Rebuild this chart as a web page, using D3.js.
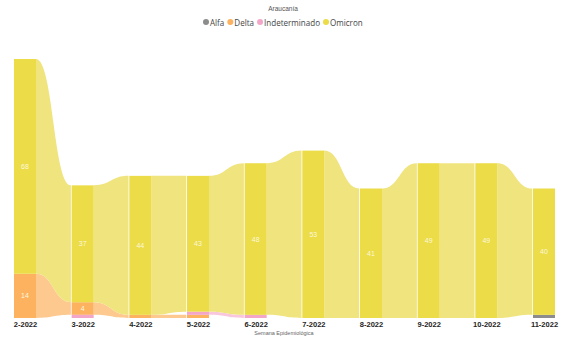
<!DOCTYPE html>
<html><head><meta charset="utf-8">
<script src="https://cdn.jsdelivr.net/npm/d3@7"></script>
<style>body{margin:0;background:#fff}svg{display:block}</style>
</head><body>
<script>
const weeks = ["2-2022","3-2022","4-2022","5-2022","6-2022","7-2022","8-2022","9-2022","10-2022","11-2022"];
const seriesNames = ["Alfa","Delta","Indeterminado","Omicron"];
const alfa          = [0,0,0,0,0,0,0,0,0,1];
const delta         = [14,4,1,1,0,0,0,0,0,0];
const indeterminado = [0,1,0,1,1,0,0,0,0,0];
const omicron       = [68,37,44,43,48,53,41,49,49,40];
const values = [alfa, delta, indeterminado, omicron];
const colColors = ["#8c8c8c","#fcb25e","#f4a6c8","#ebdc48"];
const ribColors = ["#b5b5b5","#fdc98f","#f8c7dd","#f0e47f"];

const W=563,H=340;
const svg=d3.select("body").append("svg").attr("width",W).attr("height",H);

svg.append("text").attr("x",283).attr("y",11).attr("text-anchor","middle")
  .attr("font-family","Liberation Sans, Arial, sans-serif").attr("font-size",6.5).attr("fill","#555").text("Araucanía");

// legend: measure to fit reference span
const probe=svg.append("text").attr("font-family","Open Sans, sans-serif").attr("font-size",10).text("Indeterminado");
const lw=probe.node().getComputedTextLength(); probe.remove();
const lfs=10*56/lw;
let lx=206;
seriesNames.forEach((s,i)=>{
  svg.append("circle").attr("cx",lx).attr("cy",22).attr("r",3).attr("fill",colColors[i]);
  const t=svg.append("text").attr("x",lx+4).attr("y",25.5).attr("font-family","Open Sans, sans-serif")
    .attr("font-size",lfs).attr("fill","#444").text(s);
  lx += 4 + t.node().getComputedTextLength() + 6;
});

const x=d3.scalePoint().domain(weeks).range([25,544]);
const bw=22;
const y=d3.scaleLinear().domain([0,82]).range([318,59]);

const stacks = weeks.map((w,wi)=>{
  const order = seriesNames.map((s,si)=>({si,v:values[si][wi]})).filter(d=>d.v>0)
    .sort((a,b)=>a.v-b.v || a.si-b.si);
  let acc=0; const pos={};
  order.forEach(d=>{pos[d.si]=[acc,acc+d.v]; acc+=d.v;});
  return pos;
});

const gR=svg.append("g"), gC=svg.append("g"), gL=svg.append("g");
for(let wi=0;wi<weeks.length-1;wi++){
  const x0=x(weeks[wi])+bw/2, x1=x(weeks[wi+1])-bw/2-0.8, xm=(x0+x1)/2;
  seriesNames.forEach((s,si)=>{
    const a=stacks[wi][si], b=stacks[wi+1][si];
    if(!a||!b) return;
    const p=d3.path();
    p.moveTo(x0,y(a[1]));
    p.bezierCurveTo(xm,y(a[1]),xm,y(b[1]),x1,y(b[1]));
    p.lineTo(x1,y(b[0]));
    p.bezierCurveTo(xm,y(b[0]),xm,y(a[0]),x0,y(a[0]));
    p.closePath();
    gR.append("path").attr("d",p.toString()).attr("fill",ribColors[si]);
  });
}
weeks.forEach((w,wi)=>{
  seriesNames.forEach((s,si)=>{
    const a=stacks[wi][si]; if(!a) return;
    gC.append("rect").attr("x",x(w)-bw/2).attr("width",bw)
      .attr("y",y(a[1])).attr("height",y(a[0])-y(a[1])).attr("fill",colColors[si]);
    if(y(a[0])-y(a[1])>9){
      gL.append("text").attr("x",x(w)).attr("y",(y(a[0])+y(a[1]))/2+2.5).attr("text-anchor","middle")
        .attr("font-family","Liberation Sans, Arial, sans-serif").attr("font-size",7).attr("fill","#fdf8dc")
        .text(values[si][wi]);
    }
  });
});

const xa=svg.append("g").attr("transform","translate(0,318)")
  .call(d3.axisBottom(x).tickSize(0).tickPadding(4));
xa.select(".domain").remove();
xa.selectAll("text").attr("font-family","Liberation Sans, Arial, sans-serif").attr("font-size",7.5)
  .attr("font-weight","bold").attr("fill","#252423");

svg.append("text").attr("x",284).attr("y",335).attr("text-anchor","middle")
  .attr("font-family","Liberation Sans, Arial, sans-serif").attr("font-size",5.5).attr("fill","#666").text("Semana Epidemiológica");
</script>
</body></html>
